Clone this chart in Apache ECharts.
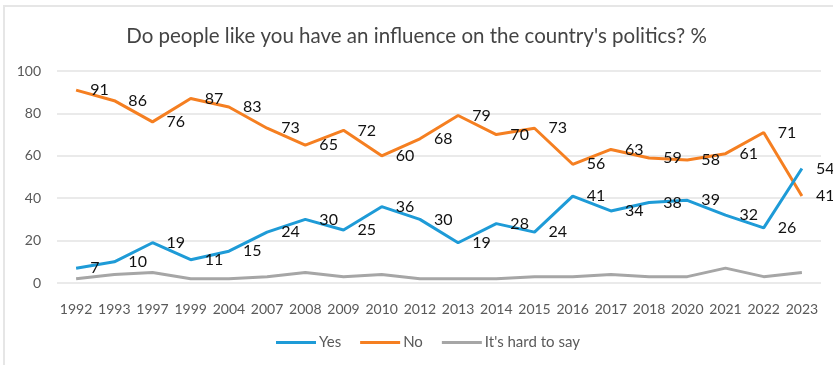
<!DOCTYPE html>
<html>
<head>
<meta charset="utf-8">
<script src="https://cdn.jsdelivr.net/npm/echarts@6/dist/echarts.min.js"></script>
<style>
  html, body { margin: 0; padding: 0; background: #fff; }
  #chart { width: 833px; height: 365px; }
</style>
</head>
<body>
<div id="chart"></div>
<script>
// Survey years
const years = ['1992','1993','1997','1999','2004','2007','2008','2009','2010','2012',
               '2013','2014','2015','2016','2017','2018','2020','2021','2022','2023'];

// Share of answers, %
const yesValues  = [7, 10, 19, 11, 15, 24, 30, 25, 36, 30, 19, 28, 24, 41, 34, 38, 39, 32, 26, 54];
const noValues   = [91, 86, 76, 87, 83, 73, 65, 72, 60, 68, 79, 70, 73, 56, 63, 59, 58, 61, 71, 41];
const hardValues = [2, 4, 5, 2, 2, 3, 5, 3, 4, 2, 2, 2, 3, 3, 4, 3, 3, 7, 3, 5];

const seriesNames = ['Yes', 'No', "It's hard to say"];
const titleText = "Do people like you have an influence on the country's politics? %";

const FONT = 'Lato, "Open Sans", sans-serif';

const chart = echarts.init(document.getElementById('chart'), null, { renderer: 'canvas' });

const valueLabel = {
  show: true,
  position: 'right',
  distance: 14,
  color: '#111',
  fontSize: 16,
  fontFamily: FONT
};

chart.setOption({
  animation: false,
  backgroundColor: '#fff',
  graphic: [
    {
      type: 'polyline',
      shape: { points: [[4, 365], [4, 6], [833, 6]] },
      style: { stroke: '#e6e6e6', lineWidth: 2, fill: null },
      silent: true
    }
  ],
  title: {
    text: titleText,
    left: 'center',
    top: 21,
    textStyle: { color: '#444', fontSize: 20.5, fontWeight: 'normal', fontFamily: FONT }
  },
  legend: {
    bottom: 10,
    left: 271,
    itemWidth: 40,
    itemHeight: 3,
    itemGap: 19,
    icon: 'rect',
    textStyle: { color: '#595959', fontSize: 15, fontFamily: FONT, padding: [0, 0, 0, -2] },
    data: seriesNames
  },
  grid: { left: 57, right: 12, top: 71, bottom: 82 },
  xAxis: {
    type: 'category',
    data: years,
    boundaryGap: true,
    axisLine: { show: false },
    axisTick: { show: false },
    axisLabel: { color: '#595959', fontSize: 14, fontFamily: FONT, margin: 19, interval: 0 }
  },
  yAxis: {
    type: 'value',
    min: 0,
    max: 100,
    interval: 20,
    axisLine: { show: false },
    axisTick: { show: false },
    axisLabel: { color: '#595959', fontSize: 14, fontFamily: FONT, margin: 16 },
    splitLine: { lineStyle: { color: '#e3e3e3', width: 1.5 } }
  },
  series: [
    {
      name: seriesNames[0],
      type: 'line',
      data: yesValues,
      symbol: 'circle',
      symbolSize: 0.1,
      showSymbol: true,
      color: '#1e9bd7',
      lineStyle: { width: 3 },
      label: valueLabel,
      z: 3
    },
    {
      name: seriesNames[1],
      type: 'line',
      data: noValues,
      symbol: 'circle',
      symbolSize: 0.1,
      showSymbol: true,
      color: '#f57f21',
      lineStyle: { width: 3 },
      label: valueLabel,
      z: 2
    },
    {
      name: seriesNames[2],
      type: 'line',
      data: hardValues,
      symbol: 'none',
      color: '#a6a6a6',
      lineStyle: { width: 3 },
      label: { show: false },
      z: 1
    }
  ]
});
</script>
</body>
</html>
